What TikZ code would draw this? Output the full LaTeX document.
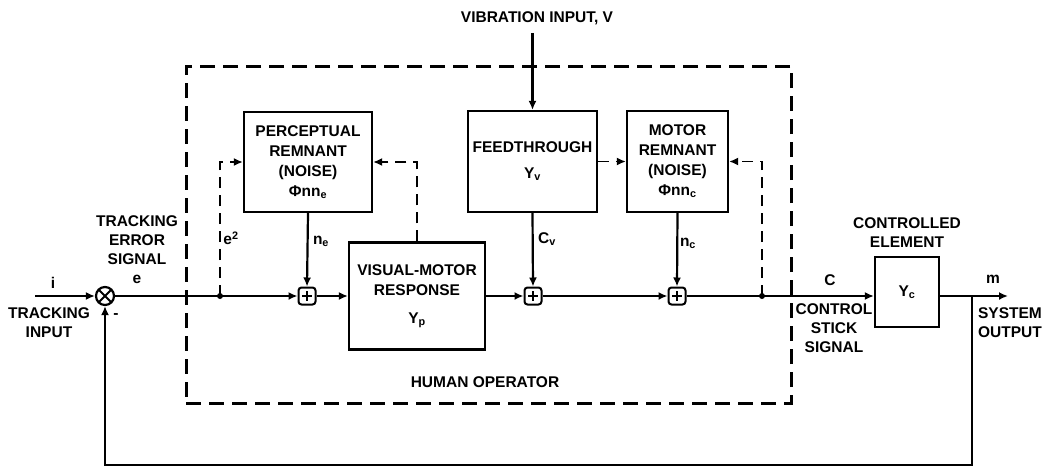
\documentclass[tikz,border=0pt]{standalone}
\usepackage{fontspec}
\setmainfont{Liberation Sans}
\usetikzlibrary{arrows.meta}

\tikzset{
  sig/.style={line width=2.2pt, -{Latex[length=9pt,width=8pt]}},
  dsig/.style={sig, line width=1.8pt, dash pattern=on 11pt off 7pt},
  blk/.style={draw, line width=2.2pt, align=center, inner sep=0pt,
    font=\fontsize{15.5}{20}\selectfont\bfseries},
  lbl/.style={align=center, inner sep=0pt,
    font=\fontsize{15.5}{19}\selectfont\bfseries},
  hobox/.style={draw, line width=3pt, dash pattern=on 15pt off 8pt},
  sumbox/.style={draw, line width=2pt, rounded corners=3pt, minimum size=17pt,
    inner sep=0pt,
    path picture={\draw[line width=2pt]
      ([yshift=5pt]path picture bounding box.center) -- ([yshift=-5pt]path picture bounding box.center)
      ([xshift=-5pt]path picture bounding box.center) -- ([xshift=5pt]path picture bounding box.center);}},
  sumcirc/.style={draw, circle, line width=2.2pt, minimum size=18pt, inner sep=0pt,
    path picture={\draw[line width=2pt]
      (path picture bounding box.north west) -- (path picture bounding box.south east)
      (path picture bounding box.north east) -- (path picture bounding box.south west);}},
}

\begin{document}
\begin{tikzpicture}[x=1pt,y=-1pt]
  \useasboundingbox (0,0) rectangle (1049,467);

  % Human operator frame
  \node[hobox, minimum width=605pt, minimum height=337pt] (ho) at (488.5,234.5) {};
  \node[lbl] (holbl) at (485,382) {HUMAN OPERATOR};

  % Blocks
  \node[blk, minimum width=128pt, minimum height=100pt] (pr) at (308,162)
    {PERCEPTUAL\\REMNANT\\(NOISE)\\Φnn\textsubscript{e}};
  \node[blk, minimum width=136pt, minimum height=107pt] (vm) at (417,296)
    {VISUAL-MOTOR\\RESPONSE\\[8pt]Y\textsubscript{p}};
  \node[blk, minimum width=129pt, minimum height=101pt] (ft) at (532.5,161.5)
    {FEEDTHROUGH\\[6pt]Y\textsubscript{v}};
  \node[blk, minimum width=101pt, minimum height=101pt] (mr) at (677.5,161.5)
    {MOTOR\\REMNANT\\(NOISE)\\Φnn\textsubscript{c}};
  \node[blk, minimum width=64pt, minimum height=70pt] (ce) at (907,292)
    {Y\textsubscript{c}};

  % Summing points
  \node[sumcirc] (sj) at (105,296) {};
  \node[sumbox] (p1) at (307,296) {};
  \node[sumbox] (p2) at (533,296) {};
  \node[sumbox] (p3) at (677,296) {};

  % Free ends and taps
  \coordinate (in) at (35,296);
  \coordinate (te) at (220,296);
  \coordinate (tc) at (762,296);
  \coordinate (to) at (972,296);
  \coordinate (out) at (1008,296);
  \coordinate (fb) at (972,465);
  \fill (te) circle (3pt);
  \fill (tc) circle (3pt);

  % Main path
  \draw[sig] (in) -- (sj.west);
  \draw[sig] (sj.east) -- (p1.west);
  \draw[sig] (p1.east) -- (vm.west);
  \draw[sig] (vm.east) -- (p2.west);
  \draw[sig] (p2.east) -- (p3.west);
  \draw[sig] (p3.east) -- (p3 -| ce.west);
  \draw[sig] (to -| ce.east) -- (out);
  \draw[sig] (to) -- (fb) -| (sj.south);

  % Noise and vibration inputs
  \node[lbl] (vib) at (537,18) {VIBRATION INPUT, V};
  \draw[sig] (ft.north |- vib.south) ++(0,8) -- (ft.north);
  \draw[sig] (pr.south) -- (p1.north);
  \draw[sig] (ft.south) -- (p2.north);
  \draw[sig] (mr.south) -- (p3.north);

  % Dashed links into remnants
  \draw[dsig] (te) |- (pr.west);
  \draw[dsig] (vm.north) |- (pr.east);
  \draw[dsig] (ft.east) -- (mr.west);
  \draw[dsig] (tc) |- (mr.east);

  % Labels
  \node[lbl] (ilbl) at (53,283) {i};
  \node[lbl] (tilbl) at (49,323) {TRACKING\\INPUT};
  \node[lbl] (eslbl) at (137,250) {TRACKING\\ERROR\\SIGNAL\\e};
  \node[lbl] (mnlbl) at (116,316) {-};
  \node[lbl] (e2lbl) at (231,238) {e\textsuperscript{2}};
  \node[lbl] (nelbl) at (321,241) {n\textsubscript{e}};
  \node[lbl] (cvlbl) at (547,239) {C\textsubscript{v}};
  \node[lbl] (nclbl) at (688,243) {n\textsubscript{c}};
  \node[lbl] (clbl) at (830,280) {C};
  \node[lbl] (cslbl) at (834,328) {CONTROL\\STICK\\SIGNAL};
  \node[lbl] (celbl) at (907,233) {CONTROLLED\\ELEMENT};
  \node[lbl] (mlbl) at (993,279) {m};
  \node[lbl] (solbl) at (1010,323) {SYSTEM\\OUTPUT};

\end{tikzpicture}
\end{document}
